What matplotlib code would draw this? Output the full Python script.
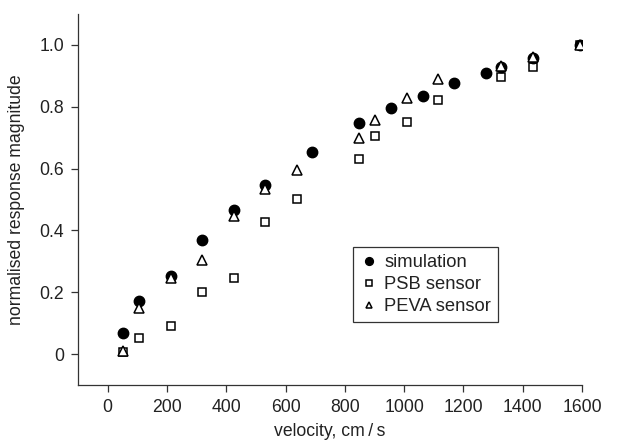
import matplotlib
matplotlib.use('Agg')
import matplotlib.pyplot as plt

plt.rcParams['font.family'] = ['Liberation Sans', 'DejaVu Sans']
plt.rcParams['font.size'] = 12.7

# values (x in axis units)
sim_x = [53, 106, 212, 319, 425, 530, 690, 849, 955, 1062, 1168, 1275, 1327, 1433, 1592]
sim_y = [0.069, 0.172, 0.252, 0.368, 0.467, 0.546, 0.653, 0.746, 0.796, 0.835, 0.877,
         0.910, 0.927, 0.959, 1.0]

psb_x = [53, 106, 212, 319, 425, 530, 637, 849, 903, 1009, 1115, 1327, 1433, 1592]
psb_y = [0.006, 0.053, 0.091, 0.202, 0.245, 0.427, 0.502, 0.630, 0.706, 0.751, 0.822,
         0.895, 0.929, 1.0]

peva_x = [53, 106, 212, 319, 425, 530, 637, 849, 903, 1009, 1115, 1327, 1433, 1592]
peva_y = [0.009, 0.150, 0.245, 0.305, 0.447, 0.535, 0.594, 0.699, 0.758, 0.828, 0.890,
          0.931, 0.961, 1.0]

x_ticks = [0, 200, 400, 600, 800, 1000, 1200, 1400, 1600]
y_ticks = [0, 0.2, 0.4, 0.6, 0.8, 1.0]
y_tick_labels = ['0', '0.2', '0.4', '0.6', '0.8', '1.0']

fig = plt.figure(figsize=(6.32, 4.44), dpi=100)
ax = fig.add_axes([0.1234, 0.1329, 0.7976, 0.8356])

ax.plot(sim_x, sim_y, 'o', color='black', ms=7.5, label='simulation', zorder=3)
ax.plot(psb_x, psb_y, 's', mfc='white', mec='black', mew=1.1, ms=6, label='PSB sensor')
ax.plot(peva_x, peva_y, '^', mfc='white', mec='black', mew=1.1, ms=6.5, label='PEVA sensor', zorder=4)

ax.set_xlim(-100, 1600)
ax.set_ylim(-0.1, 1.1)
ax.set_xticks(x_ticks)
ax.set_yticks(y_ticks)
ax.set_yticklabels(y_tick_labels)
ax.spines['top'].set_visible(False)
ax.spines['right'].set_visible(False)
for s in ['left', 'bottom']:
    ax.spines[s].set_color('#333333')
    ax.spines[s].set_linewidth(0.9)
ax.tick_params(length=5, width=0.9, color='#333333', labelcolor='#222222', pad=5)

ax.set_xlabel('velocity, cm\u2009/\u2009s', color='#222222', labelpad=5)
ax.set_ylabel('normalised response magnitude', color='#222222', labelpad=10)

leg = ax.legend(loc='upper left', bbox_to_anchor=(0.546, 0.372), borderaxespad=0,
                fancybox=False, edgecolor='#333333', framealpha=1, handletextpad=0.3,
                handlelength=1.0, labelspacing=0.28, borderpad=0.38, markerscale=0.75,
                fontsize=13.2)
leg.get_frame().set_linewidth(0.9)
for t in leg.get_texts():
    t.set_color('#222222')

fig.savefig('out.png', dpi=100)
